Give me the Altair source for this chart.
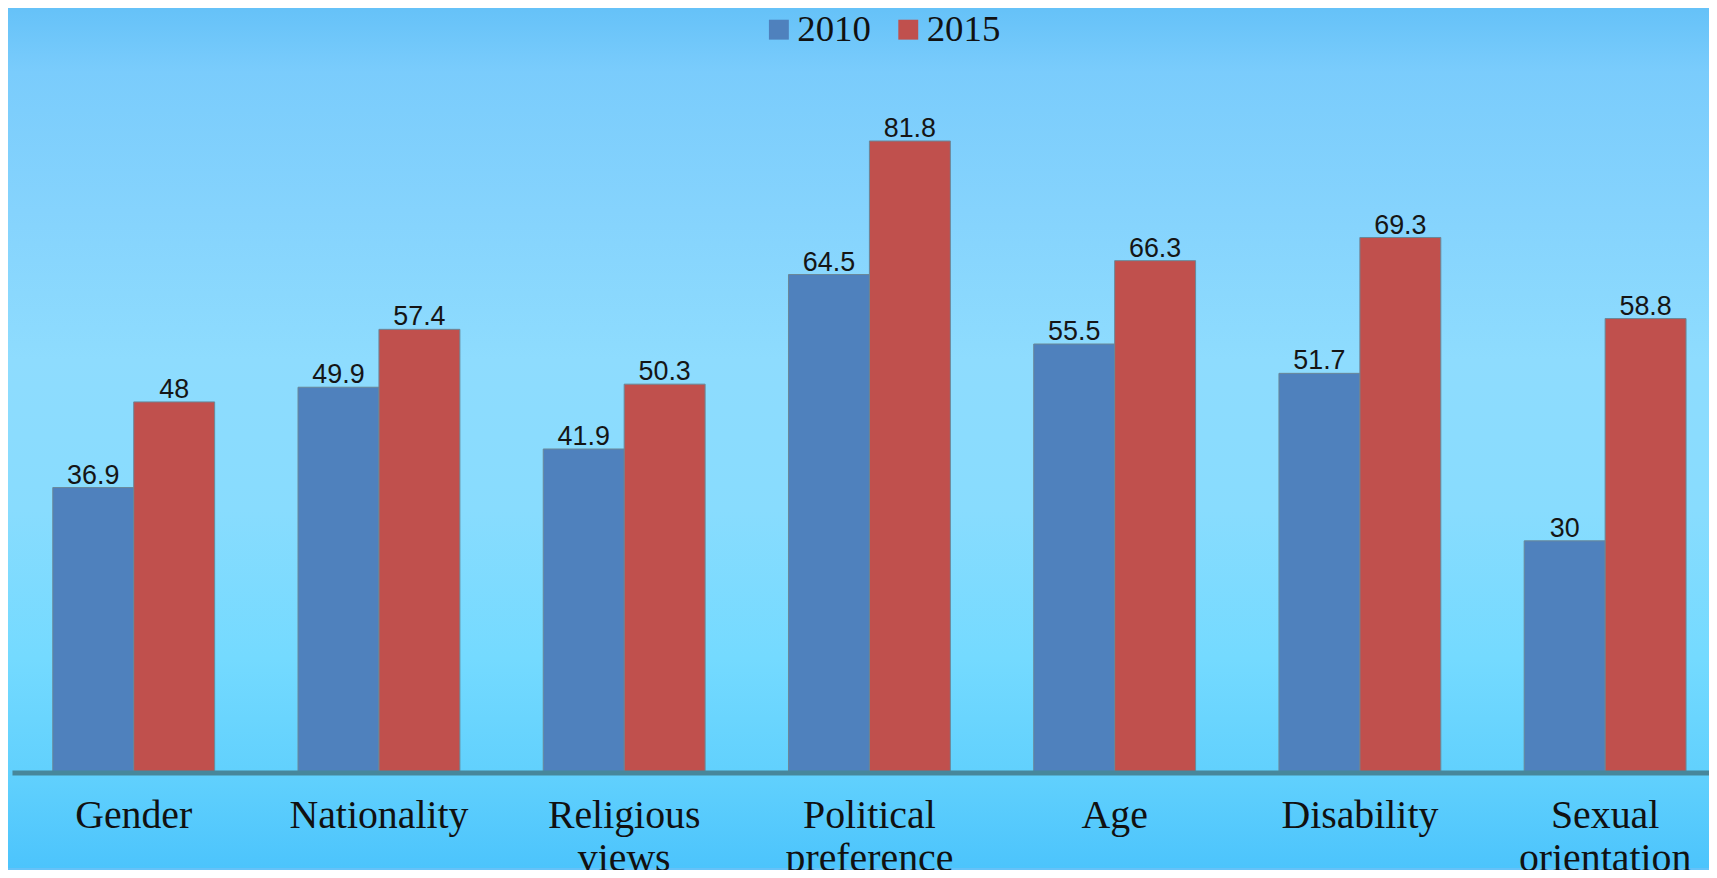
import altair as alt
import pandas as pd

categories = ["Gender", "Nationality", "Religious views", "Political preference",
              "Age", "Disability", "Sexual orientation"]
years = ["2010", "2015"]
values_2010 = [36.9, 49.9, 41.9, 64.5, 55.5, 51.7, 30]
values_2015 = [48, 57.4, 50.3, 81.8, 66.3, 69.3, 58.8]
colors = ["#4F81BD", "#C0504D"]

rows = []
for c, a, b in zip(categories, values_2010, values_2015):
    rows.append({"category": c, "year": "2010", "value": a, "label": f"{a:g}"})
    rows.append({"category": c, "year": "2015", "value": b, "label": f"{b:g}"})
df = pd.DataFrame(rows)

W = 1705
H = 698
PAD = {"left": 4, "top": 68, "right": 0, "bottom": 96}

stops = [
    (0.0, "#66c2f8"), (0.072, "#7accfc"), (0.234, "#85d3fd"), (0.408, "#8edcfe"),
    (0.582, "#88dcfe"), (0.756, "#74daff"), (0.896, "#60d0fd"), (1.0, "#4cc4fc"),
]
bg = alt.Chart(pd.DataFrame({"a": [0]})).mark_rect(
    fill=alt.Gradient(
        gradient="linear",
        stops=[alt.GradientStop(color=c, offset=o) for o, c in stops],
        x1=0, x2=0, y1=0, y2=1,
    ),
    strokeWidth=0,
).encode(
    x=alt.value(-PAD["left"]), x2=alt.value(W + PAD["right"]),
    y=alt.value(-PAD["top"]), y2=alt.value(H + PAD["bottom"]),
)

xscale = alt.Scale(paddingInner=0.34, paddingOuter=0.13, align=0.64)
x_enc = alt.X(
    "category:N", sort=categories, scale=xscale, title=None,
    axis=alt.Axis(
        labelAngle=0, ticks=False, tickSize=0, grid=False,
        domain=True, domainColor="#47879b", domainWidth=5,
        labelFont="Liberation Serif", labelFontSize=40, labelColor="#111111",
        labelPadding=23, labelLineHeight=44, labelLimit=0, labelOverlap=False,
        labelExpr="split(datum.label, ' ')", zindex=1,
    ),
)
xo_enc = alt.XOffset("year:N", sort=years, scale=alt.Scale(paddingInner=0, paddingOuter=0))
y_enc = alt.Y("value:Q", scale=alt.Scale(domain=[0, 90], nice=False, zero=True), axis=None)

bars = alt.Chart(df).mark_bar(stroke="#6a8797", strokeWidth=1).encode(
    x=x_enc,
    xOffset=xo_enc,
    y=y_enc,
    color=alt.Color(
        "year:N", sort=years,
        scale=alt.Scale(domain=years, range=colors),
        legend=alt.Legend(
            title=None, orient="none", legendX=744, legendY=-67,
            direction="horizontal", symbolType="square", symbolSize=400,
            symbolStrokeWidth=0, symbolOffset=8,
            labelFont="Liberation Serif", labelFontSize=37,
            labelColor="#111111", labelOffset=0, columnPadding=11, padding=0,
        ),
    ),
)

labels = alt.Chart(df).mark_text(
    baseline="alphabetic", dy=-4, font="Liberation Sans", fontSize=27, color="#151515"
).encode(
    x=alt.X("category:N", sort=categories),
    xOffset=alt.XOffset("year:N", sort=years),
    y=alt.Y("value:Q"),
    text="label:N",
)

chart = alt.layer(bg, bars, labels).properties(
    width=W, height=H,
    autosize=alt.AutoSizeParams(type="none"),
    padding=PAD,
).configure_view(stroke=None).configure(background="#66c2f8")

chart.save("out.html", embed_options={"renderer": "svg", "actions": False})
